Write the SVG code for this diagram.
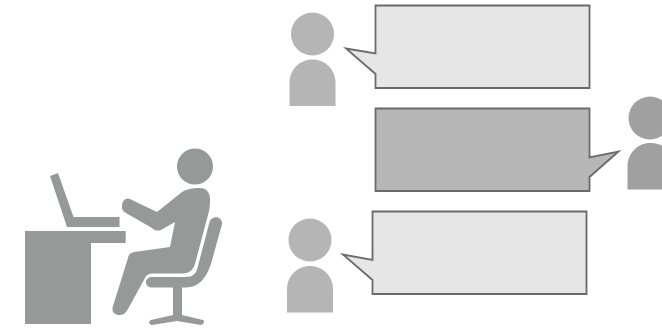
<svg xmlns="http://www.w3.org/2000/svg" width="662" height="329" viewBox="0 0 662 329">
<style>
.lt{fill:#b5b5b5}
.dk{fill:#a0a0a0}
.wk{fill:#979898}
.b1{fill:#e6e6e6;stroke:#6a6a6a;stroke-width:1.8}
.b2{fill:#b7b7b7;stroke:#6a6a6a;stroke-width:1.8}
</style>
<rect width="662" height="329" fill="#fff"/>
<g id="worker">
<circle class="wk" cx="195" cy="166.500" r="18"/>
<path class="wk" d="M50 176L58 173L73.500 217H119.500V227H67Z"/>
<path class="wk" d="M25 231H125.700V243H91V324H25Z"/>
<path class="wk" d="M130 199C126 197 122 201 122 206C121.500 209 123 211 125 212.500L152 228C155 231 158 231 161 230L175 222L170 247L134 252C130 253 128.500 255 128 258L113 306C111 312 115 315 120 315C124 315 126 312 128 309L145 278C146 275 149 273.500 152 273.500L182 273.500C190 273.500 194 269 195.500 262L208.500 213C210 208 210 204 210 198C209.500 192 206 188 200 188C192 188 187 189 182 192L157 212Z"/>
<path class="wk" d="M214 217.500C219 216.500 222.500 220 222 224L211 264C206 279 198 287.500 186 287.500L152 287.500C148 287.500 146 285 146 282C146 279 149 277 152 277L186 277C192 277 196 274 197.500 268L209.500 222C210 220 212 218 214 217.500Z"/>
<path class="wk" d="M173 287H182V315L203 320C205 321 204 324 201 325L177 321L152 325C149 325 148 321 151 320L173 315Z"/>
</g>
<g id="person-top">
<circle class="lt" cx="312.500" cy="34" r="21.500"/>
<path class="lt" d="M289.500 106V82.500C289.500 69.500 300 59.500 312.500 59.500C325 59.500 335.500 69.500 335.500 82.500V106Z"/>
</g>
<g id="bubble-top">
<path class="b1" d="M375.500 5.500H589.500V88H375.500V74L346 48.500L375.500 53.500Z"/>
</g>
<g id="person-right">
<circle class="dk" cx="650" cy="118" r="21.500"/>
<path class="dk" d="M627.500 189.500V166C627.500 153 638 143 650 143C656 143 662 145 662 146V189.500Z"/>
</g>
<g id="bubble-middle">
<path class="b2" d="M375.500 108.500H589.500V157.500L618.500 151.500L589.500 177V191H375.500Z"/>
</g>
<g id="person-bottom">
<circle class="lt" cx="310" cy="240" r="21.500"/>
<path class="lt" d="M287 312.500V289C287 276 297.500 266 310 266C322.500 266 333 276 333 289V312.500Z"/>
</g>
<g id="bubble-bottom">
<path class="b1" d="M372.500 211.500H586.500V294H372.500V280L343 254.500L372.500 260Z"/>
</g>
<g id="connectors"></g>
</svg>
